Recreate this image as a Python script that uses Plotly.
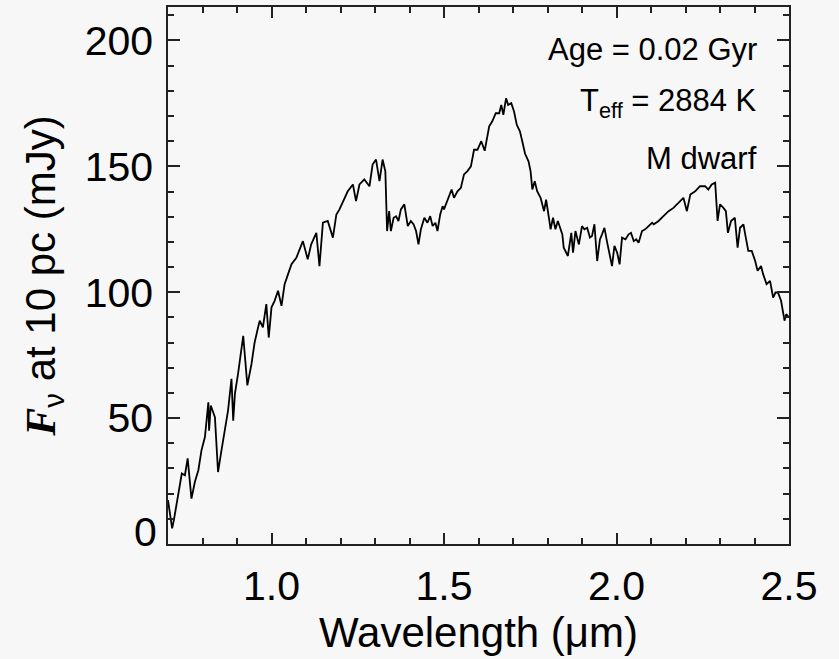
import plotly.graph_objects as go

wavelength = [
    0.700, 0.712, 0.717, 0.735, 0.740, 0.749, 0.757, 0.768, 0.778, 0.788,
    0.797, 0.807, 0.817, 0.819, 0.824, 0.836, 0.845, 0.855, 0.865, 0.874,
    0.884, 0.889, 0.894, 0.903, 0.918, 0.930, 0.942, 0.951, 0.961, 0.966,
    0.975, 0.985, 0.992, 1.000, 1.009, 1.019, 1.029, 1.038, 1.048, 1.058,
    1.072, 1.081, 1.091, 1.105, 1.115, 1.130, 1.139, 1.149, 1.163, 1.178,
    1.188, 1.197, 1.207, 1.221, 1.236, 1.245, 1.255, 1.269, 1.284, 1.293,
    1.303, 1.313, 1.322, 1.330, 1.335, 1.341, 1.346, 1.354, 1.361, 1.368,
    1.375, 1.385, 1.395, 1.404, 1.412, 1.419, 1.426, 1.433, 1.443, 1.452,
    1.460, 1.467, 1.475, 1.481, 1.489, 1.496, 1.500, 1.510, 1.522, 1.529,
    1.539, 1.549, 1.558, 1.568, 1.578, 1.587, 1.597, 1.608, 1.618, 1.631,
    1.640, 1.650, 1.660, 1.666, 1.672, 1.680, 1.686, 1.695, 1.703, 1.711,
    1.720, 1.727, 1.735, 1.745, 1.751, 1.756, 1.763, 1.770, 1.780, 1.790,
    1.796, 1.804, 1.809, 1.816, 1.823, 1.830, 1.843, 1.847, 1.859, 1.869,
    1.874, 1.881, 1.891, 1.900, 1.907, 1.915, 1.923, 1.929, 1.936, 1.944,
    1.952, 1.958, 1.965, 1.973, 1.980, 1.987, 1.994, 2.002, 2.009, 2.016,
    2.026, 2.035, 2.042, 2.050, 2.057, 2.064, 2.074, 2.083, 2.093, 2.103,
    2.108, 2.122, 2.136, 2.151, 2.165, 2.179, 2.194, 2.204, 2.214, 2.228,
    2.242, 2.257, 2.266, 2.276, 2.286, 2.293, 2.300, 2.310, 2.317, 2.323,
    2.332, 2.343, 2.351, 2.358, 2.368, 2.374, 2.382, 2.392, 2.402, 2.409,
    2.419, 2.425, 2.435, 2.445, 2.454, 2.461, 2.468, 2.477, 2.487, 2.492,
    2.500,
]

flux_mjy = [
    17.4, 6.2, 9.5, 25.3, 28.0, 27.3, 34.0, 18.0, 24.7, 29.3,
    37.2, 42.5, 56.3, 45.0, 55.0, 50.4, 28.6, 37.2, 45.1, 53.0,
    65.6, 49.0, 59.7, 67.6, 82.7, 63.0, 71.5, 80.0, 86.0, 88.7,
    86.0, 95.3, 82.0, 94.0, 96.6, 100.6, 94.6, 103.2, 107.2, 111.1,
    113.7, 117.0, 120.3, 113.1, 119.0, 123.6, 110.4, 127.6, 128.3, 121.7,
    130.9, 132.9, 136.2, 140.1, 142.8, 136.2, 142.8, 144.8, 142.1, 150.7,
    152.7, 144.1, 152.7, 148.0, 124.3, 132.2, 124.3, 129.6, 130.2, 128.3,
    132.9, 134.9, 126.3, 128.3, 126.9, 124.3, 119.0, 125.0, 129.6, 127.6,
    130.2, 126.3, 127.6, 124.3, 130.9, 134.2, 132.9, 136.2, 140.8, 137.5,
    140.1, 141.5, 146.8, 148.1, 150.0, 156.6, 156.6, 160.0, 156.2, 165.9,
    167.9, 171.1, 171.1, 174.4, 170.5, 177.1, 174.4, 175.1, 171.8, 166.5,
    163.9, 159.9, 155.0, 152.0, 148.0, 140.8, 144.1, 140.1, 137.5, 132.2,
    136.8, 129.6, 125.0, 129.6, 125.0, 128.3, 123.0, 117.7, 114.4, 123.6,
    115.7, 124.3, 119.0, 126.3, 125.0, 125.6, 121.7, 122.3, 127.0, 112.4,
    121.0, 123.0, 125.6, 119.7, 114.4, 110.4, 118.4, 115.7, 111.1, 121.7,
    121.0, 123.0, 123.6, 120.3, 121.0, 119.7, 124.3, 125.0, 126.3, 127.6,
    127.0, 128.3, 130.2, 132.2, 133.5, 135.5, 137.5, 132.2, 138.8, 140.1,
    142.1, 142.1, 140.8, 142.8, 143.5, 128.3, 134.9, 133.5, 132.2, 123.6,
    128.3, 129.6, 117.7, 125.6, 126.9, 122.3, 116.4, 116.4, 112.4, 108.5,
    110.4, 107.2, 103.2, 104.5, 97.9, 99.9, 99.9, 96.6, 88.7, 91.3,
    90.0,
]

x_ticks = [1.0, 1.5, 2.0, 2.5]
x_tick_labels = ["1.0", "1.5", "2.0", "2.5"]
y_ticks = [0, 50, 100, 150, 200]
y_tick_labels = ["", "50", "100", "150", "200"]

info_lines = ["Age = 0.02 Gyr", "T<sub>eff</sub> = 2884 K", "M dwarf"]

BG = "#f7f7f7"
AX = "#222222"
FONT = "Liberation Sans, Arial, Helvetica, sans-serif"

fig = go.Figure()
fig.add_trace(go.Scatter(
    x=wavelength, y=flux_mjy, mode="lines",
    line=dict(color="black", width=1.8), showlegend=False,
    hoverinfo="skip",
))

axis_common = dict(
    showline=True, linecolor=AX, linewidth=1.5, mirror="allticks",
    ticks="inside", tickcolor=AX, tickwidth=1.5,
    showgrid=False, zeroline=False,
    tickfont=dict(family=FONT, size=41, color="black"),
)

fig.update_xaxes(
    range=[0.7, 2.5], tickvals=x_ticks, ticktext=x_tick_labels, ticklen=11,
    minor=dict(ticks="inside", dtick=0.1, tick0=0.7, ticklen=6, tickcolor=AX, tickwidth=1.5),
    title=dict(text="Wavelength (μm)", font=dict(family=FONT, size=42, color="black"), standoff=6),
    ticklabelstandoff=5,
    **axis_common,
)
fig.update_yaxes(
    range=[0, 213.3], tickvals=y_ticks, ticktext=y_tick_labels, ticklen=12,
    minor=dict(ticks="inside", dtick=10, tick0=0, ticklen=6, tickcolor=AX, tickwidth=1.5),
    title=dict(
        text='<span style="font-family:Liberation Serif, Times New Roman, serif"><b><i>F</i></b></span><sub>ν</sub> at 10 pc (mJy)',
        font=dict(family=FONT, size=42, color="black"), standoff=16),
    ticklabelstandoff=5,
    **axis_common,
)

# lowest y label sits slightly above its tick in the original
fig.add_annotation(
    x=0, xref="paper", y=y_ticks[0], yref="y", text="0", showarrow=False,
    xanchor="right", yanchor="middle", xshift=-9, yshift=12,
    font=dict(family=FONT, size=41, color="black"),
)

info_y = [0.921, 0.821, 0.718]
for line, yy in zip(info_lines, info_y):
    fig.add_annotation(
        x=0.951, xref="paper", y=yy, yref="paper",
        text=line, showarrow=False, xanchor="right", yanchor="middle",
        font=dict(family=FONT, size=31, color="black"),
    )

fig.update_layout(
    width=839, height=659,
    margin=dict(l=168, r=50, t=5, b=115),
    paper_bgcolor=BG, plot_bgcolor=BG,
    font=dict(family=FONT, color="black"),
)

fig.write_html("out.html")
